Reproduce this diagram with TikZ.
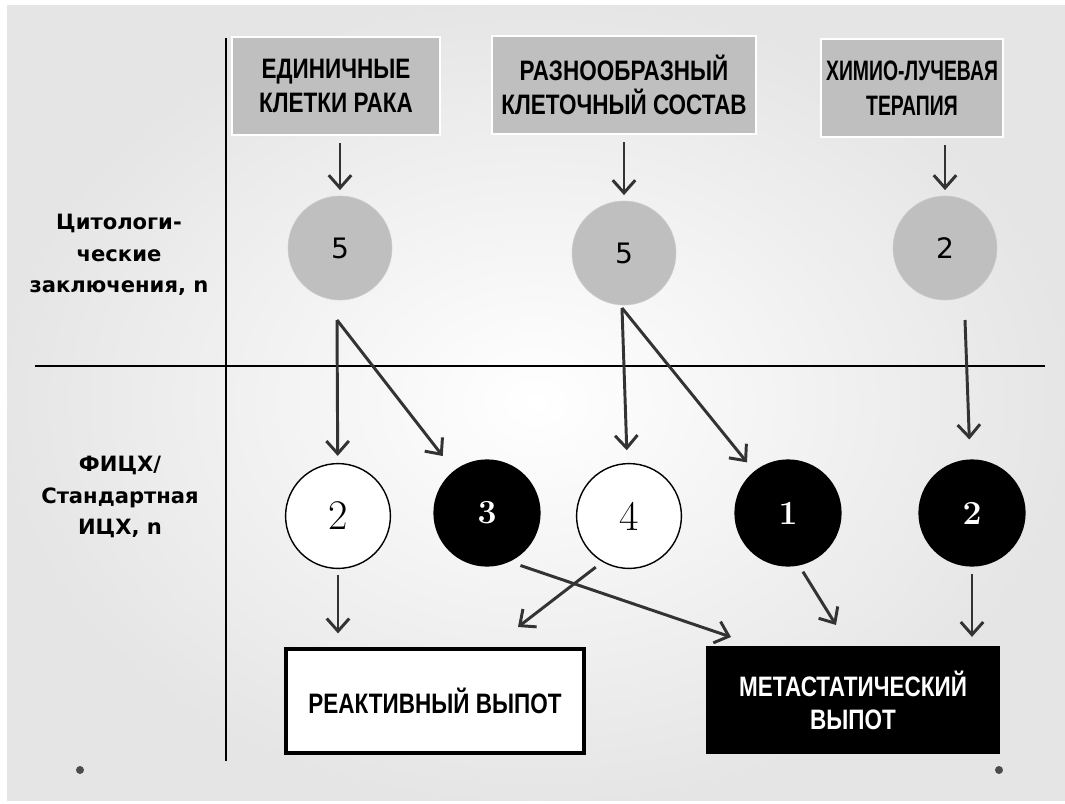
\documentclass[tikz,border=0pt]{standalone}
\usepackage{fontspec}
\usetikzlibrary{arrows.meta}
\newfontfamily\boxfont[FakeStretch=0.8]{Liberation Sans}
\newfontfamily\tightfont[FakeStretch=0.69]{Liberation Sans}
\newfontfamily\labfont{DejaVu Sans}

\tikzset{
  box/.style={draw=white, line width=1.5pt, fill=gray!50, minimum height=2.45cm,
    align=center, font=\boxfont\bfseries\fontsize{20}{24.5}\selectfont},
  cyto/.style={circle, fill=gray!50, draw=gray!40, minimum size=2.6cm,
    font=\labfont\fontsize{20}{20}\selectfont},
  negcirc/.style={circle, draw=black, line width=1pt, fill=white, minimum size=2.62cm,
    font=\fontsize{30}{30}\selectfont},
  poscirc/.style={circle, fill=black, text=white, minimum size=2.68cm,
    font=\bfseries\fontsize{24}{24}\selectfont},
  result/.style={minimum width=7.45cm, minimum height=2.6cm, align=center,
    font=\boxfont\bfseries\fontsize{20}{23.5}\selectfont},
  arr/.style={draw=black!80, line width=2.1pt, -{Straight Barb[length=9pt,width=16pt]}},
  rowlab/.style={align=center, font=\labfont\bfseries\fontsize{15}{22.5}\selectfont},
  sep/.style={line width=1.1pt, black}
}

\begin{document}
\begin{tikzpicture}[x=0.025cm, y=-0.025cm]
  % Fondo
  \fill[white] (0,0) rectangle (1065,803);
  \shade[inner color=white, outer color=gray!20] (7,5) rectangle (1065,800);
  \useasboundingbox (0,0) rectangle (1065,803);

  % Lineas
  \coordinate (vt) at (226,38);
  \coordinate (vb) at (226,761);
  \coordinate (hl) at (35,366);
  \coordinate (hr) at (1045,366);
  \draw[sep] (vt) -- (vb);
  \draw[sep] (hl) -- (hr);

  % Cajas
  \node[box, minimum width=5.2cm] (c1) at (336,86) {ЕДИНИЧНЫЕ\\КЛЕТКИ РАКА};
  \node[box, minimum width=6.6cm] (c2) at (624,85) {РАЗНООБРАЗНЫЙ\\КЛЕТОЧНЫЙ СОСТАВ};
  \node[box, minimum width=4.55cm, font=\tightfont\bfseries\fontsize{20}{24.5}\selectfont] (c3) at (912,88) {ХИМИО-ЛУЧЕВАЯ\\ТЕРАПИЯ};

  % Rotulos
  \node[rowlab] (r1) at (119,255) {Цитологи-\\ческие\\заключения, n};
  \node[rowlab] (r2) at (120,497) {ФИЦХ/\\Стандартная\\ИЦХ, n};

  % Circulos
  \node[cyto] (g1) at (340,248) {5};
  \node[cyto] (g2) at (624,253) {5};
  \node[cyto] (g3) at (945,248) {2};
  \node[negcirc] (n1) at (338,516) {2};
  \node[poscirc] (p1) at (487,513) {3};
  \node[negcirc] (n2) at (629,516) {4};
  \node[poscirc] (p2) at (788,513) {1};
  \node[poscirc] (p3) at (972,513) {2};

  % Resultados
  \node[result, draw=black, line width=2.2pt, fill=white] (reac) at (435,701) {РЕАКТИВНЫЙ ВЫПОТ};
  \node[result, fill=black, text=white, minimum width=7.33cm, minimum height=2.72cm] (meta) at (853,700) {МЕТАСТАТИЧЕСКИЙ\\ВЫПОТ};

  % Flechas
  \coordinate (f1) at (337,320);
  \coordinate (f2) at (622,308);
  \coordinate (f3) at (965,320);
  \coordinate (e1) at (731,637);
  \coordinate (e2) at (518,627);
  \coordinate (e3) at (836,625);
  \draw[arr, shorten <=5pt, shorten >=4pt] (g1 |- c1.south) -- (g1);
  \draw[arr, shorten <=5pt, shorten >=4pt] (g2 |- c2.south) -- (g2);
  \draw[arr, shorten <=5pt, shorten >=4pt] (g3 |- c3.south) -- (g3);
  \draw[arr, shorten >=5pt] (f1) -- (n1);
  \draw[arr, shorten >=13pt] (f1) -- (p1);
  \draw[arr, shorten >=9pt] (f2) -- (n2);
  \draw[arr, shorten >=8pt] (f2) -- (p2);
  \draw[arr, shorten >=14pt] (f3) -- (p3);
  \draw[arr, shorten <=4pt, shorten >=10pt] (n1) -- (n1 |- reac.north);
  \draw[arr, shorten <=6pt] (n2.240) -- (e2);
  \draw[arr, shorten <=8pt] (p1.295) -- (e1);
  \draw[arr, shorten <=5pt] (p2.282) -- (e3);
  \draw[arr, shorten <=5pt, shorten >=6pt] (p3) -- (p3 |- meta.north);

  % Puntos
  \fill[gray!60!black] (80,770) circle (4);
  \fill[gray!60!black] (999,770) circle (4);
\end{tikzpicture}
\end{document}
